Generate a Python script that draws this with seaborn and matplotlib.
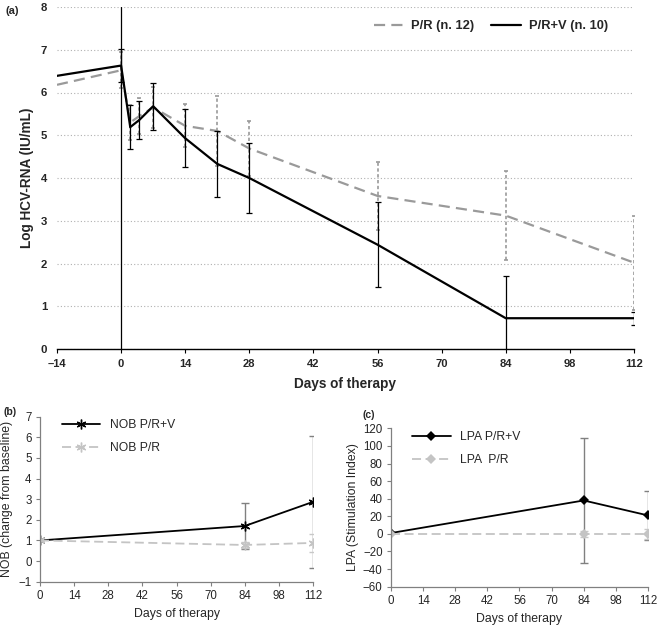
import numpy as np
import pandas as pd
import matplotlib
matplotlib.use("Agg")
import matplotlib.pyplot as plt
import seaborn as sns

sns.set_style("white")
plt.rcParams['font.family'] = ['Liberation Sans', 'DejaVu Sans']

nan = np.nan
# ---- Panel (a) data ----
days_a = [-14, 0, 2, 4, 7, 14, 21, 28, 56, 84, 112]
hcv_prv = [6.39, 6.63, 5.19, 5.36, 5.68, 4.93, 4.33, 4.00, 2.44, 0.72, 0.72]
hcv_prv_err = [nan, 0.38, 0.52, 0.44, 0.55, 0.68, 0.77, 0.81, 1.00, 0.99, 0.15]
hcv_pr = [6.18, 6.52, 5.30, 5.45, 5.65, 5.22, 5.10, 4.69, 3.58, 3.12, 2.02]
hcv_pr_err = [nan, 0.42, 0.40, 0.43, 0.48, 0.50, 0.81, 0.64, 0.79, 1.04, 1.10]
xticks_a = [-14, 0, 14, 28, 42, 56, 70, 84, 98, 112]
yticks_a = [0, 1, 2, 3, 4, 5, 6, 7, 8]

# ---- Panel (b) data ----
days_b = [0, 84, 112]
nob_prv = [1.00, 1.70, 2.87]
nob_prv_err = [nan, 1.12, 3.20]
nob_pr = [1.00, 0.78, 0.88]
nob_pr_err = [nan, 0.15, 0.45]

# ---- Panel (c) data ----
days_c = [0, 84, 112]
lpa_prv = [1, 38, 21]
lpa_prv_err = [nan, 71, 28]
lpa_pr = [0, 0, 0]
lpa_pr_err = [nan, 3, 6]
xticks_bc = [0, 14, 28, 42, 56, 70, 84, 98, 112]

fig = plt.figure(figsize=(6.58, 6.25), dpi=100)

# ================= Panel (a) =================
ax = fig.add_axes([0.0866, 0.4416, 0.8769, 0.5472])
GREY_A = '#9a9a9a'
df_a = pd.DataFrame({'day': days_a * 2,
                     'val': hcv_pr + hcv_prv,
                     'grp': ['P/R (n. 12)'] * len(days_a) + ['P/R+V (n. 10)'] * len(days_a)})
sns.lineplot(data=df_a, x='day', y='val', hue='grp', style='grp',
             palette={'P/R (n. 12)': GREY_A, 'P/R+V (n. 10)': 'black'},
             dashes={'P/R (n. 12)': (5, 2.8), 'P/R+V (n. 10)': ''},
             linewidth=1.6, ax=ax, estimator=None, sort=False)
eb1 = ax.errorbar(days_a, hcv_pr, yerr=hcv_pr_err, fmt='none', ecolor=GREY_A,
                  elinewidth=1.2, capsize=1.5, capthick=1.2, zorder=1)
eb1[-1][0].set_linestyle((0, (2, 1.5)))
ax.errorbar(days_a, hcv_prv, yerr=hcv_prv_err, fmt='none', ecolor='black',
            elinewidth=0.9, capsize=2.5, capthick=0.9, zorder=3)
ax.axvline(0, color='black', lw=0.9, zorder=2)
ax.set_xlim(-14, 112)
ax.set_ylim(0, 8)
ax.set_xticks(xticks_a)
ax.set_xticklabels([f"\u2013{abs(t)}" if t < 0 else str(t) for t in xticks_a],
                   fontsize=8, fontweight='bold')
ax.set_yticks(yticks_a)
ax.set_yticklabels([str(t) for t in yticks_a], fontsize=8.2, fontweight='bold')
ax.tick_params(axis='x', direction='out', length=3, width=0.8, color='black', bottom=True, pad=4)
ax.tick_params(axis='y', length=0, pad=7)
ax.yaxis.grid(True, linestyle=(0, (1, 2)), color='#b0b0b0', linewidth=0.8)
ax.xaxis.grid(False)
for s in ['top', 'right', 'left']:
    ax.spines[s].set_visible(False)
ax.spines['bottom'].set_color('black')
ax.spines['bottom'].set_linewidth(1.0)
ax.set_xlabel('Days of therapy', fontsize=9.8, fontweight='bold', labelpad=6)
ax.set_ylabel('Log HCV-RNA (IU/mL)', fontsize=9.8, fontweight='bold', labelpad=5)
leg = ax.legend(loc='upper right', bbox_to_anchor=(0.975, 0.995), ncol=2, frameon=False,
                prop={'weight': 'bold', 'size': 9.3}, handlelength=2.3, columnspacing=1.3,
                handletextpad=0.6)
fig.text(0.008, 0.982, '(a)', fontsize=8, fontweight='bold', va='center')

# ================= Panel (b) =================
axb = fig.add_axes([0.0608, 0.0693, 0.4149, 0.264])
df_b = pd.DataFrame({'day': days_b * 2, 'val': nob_prv + nob_pr,
                     'grp': ['NOB P/R+V'] * 3 + ['NOB P/R'] * 3})
sns.lineplot(data=df_b, x='day', y='val', hue='grp', style='grp',
             palette={'NOB P/R+V': 'black', 'NOB P/R': '#c4c4c4'},
             dashes={'NOB P/R+V': '', 'NOB P/R': (5, 2.5)},
             markers={'NOB P/R+V': (6, 2, 0), 'NOB P/R': (6, 2, 0)},
             markersize=7, markeredgewidth=1.0, linewidth=1.3, ax=axb, estimator=None)
for ln in axb.get_lines():
    ln.set_markeredgecolor(ln.get_color())
axb.errorbar(days_b, nob_prv, yerr=nob_prv_err, fmt='none', ecolor='#808080',
             elinewidth=1.0, capsize=3, capthick=1.0, zorder=1)
axb.errorbar(days_b, nob_pr, yerr=nob_pr_err, fmt='none', ecolor='#c8c8c8',
             elinewidth=1.0, capsize=3, capthick=1.0, zorder=1)
axb.set_xlim(0, 112)
axb.set_ylim(-1, 7)
axb.set_xticks(xticks_bc)
axb.set_yticks(range(-1, 8))
axb.tick_params(labelsize=8.3, direction='out', length=3, width=0.8, color='#808080',
                left=True, bottom=True, pad=3)
for s in ['top', 'right']:
    axb.spines[s].set_visible(False)
for s in ['left', 'bottom']:
    axb.spines[s].set_color('#808080')
    axb.spines[s].set_linewidth(0.9)
axb.set_xlabel('Days of therapy', fontsize=8.8, labelpad=4)
axb.set_ylabel('NOB (change from baseline)', fontsize=8.8, labelpad=4)
axb.legend(loc='upper left', bbox_to_anchor=(0.04, 1.05), frameon=False, fontsize=8.7,
           handlelength=3.2, labelspacing=0.9)
fig.text(0.005, 0.341, '(b)', fontsize=7.5, fontweight='bold', va='center')

# ================= Panel (c) =================
axc = fig.add_axes([0.5942, 0.0613, 0.3906, 0.2534])
df_c = pd.DataFrame({'day': days_c * 2, 'val': lpa_prv + lpa_pr,
                     'grp': ['LPA P/R+V'] * 3 + ['LPA  P/R'] * 3})
sns.lineplot(data=df_c, x='day', y='val', hue='grp', style='grp',
             palette={'LPA P/R+V': 'black', 'LPA  P/R': '#c4c4c4'},
             dashes={'LPA P/R+V': '', 'LPA  P/R': (5, 2.5)},
             markers={'LPA P/R+V': 'D', 'LPA  P/R': 'D'},
             markersize=5, markeredgewidth=0, linewidth=1.3, ax=axc, estimator=None)
axc.errorbar(days_c, lpa_prv, yerr=lpa_prv_err, fmt='none', ecolor='#808080',
             elinewidth=1.0, capsize=3, capthick=1.0, zorder=1)
axc.errorbar(days_c, lpa_pr, yerr=lpa_pr_err, fmt='none', ecolor='#c8c8c8',
             elinewidth=1.0, capsize=3, capthick=1.0, zorder=1)
axc.set_xlim(0, 112)
axc.set_ylim(-60, 120)
axc.set_xticks(xticks_bc)
axc.set_yticks(range(-60, 121, 20))
axc.tick_params(labelsize=8.3, direction='out', length=3, width=0.8, color='#808080',
                left=True, bottom=True, pad=3)
for s in ['top', 'right']:
    axc.spines[s].set_visible(False)
for s in ['left', 'bottom']:
    axc.spines[s].set_color('#808080')
    axc.spines[s].set_linewidth(0.9)
axc.set_xlabel('Days of therapy', fontsize=8.8, labelpad=4)
axc.set_ylabel('LPA (Stimulation Index)', fontsize=8.8, labelpad=3)
axc.legend(loc='upper left', bbox_to_anchor=(0.04, 1.05), frameon=False, fontsize=8.7,
           handlelength=3.2, labelspacing=0.9)
fig.text(0.551, 0.336, '(c)', fontsize=7.5, fontweight='bold', va='center')

fig.savefig('out.png', dpi=100)
